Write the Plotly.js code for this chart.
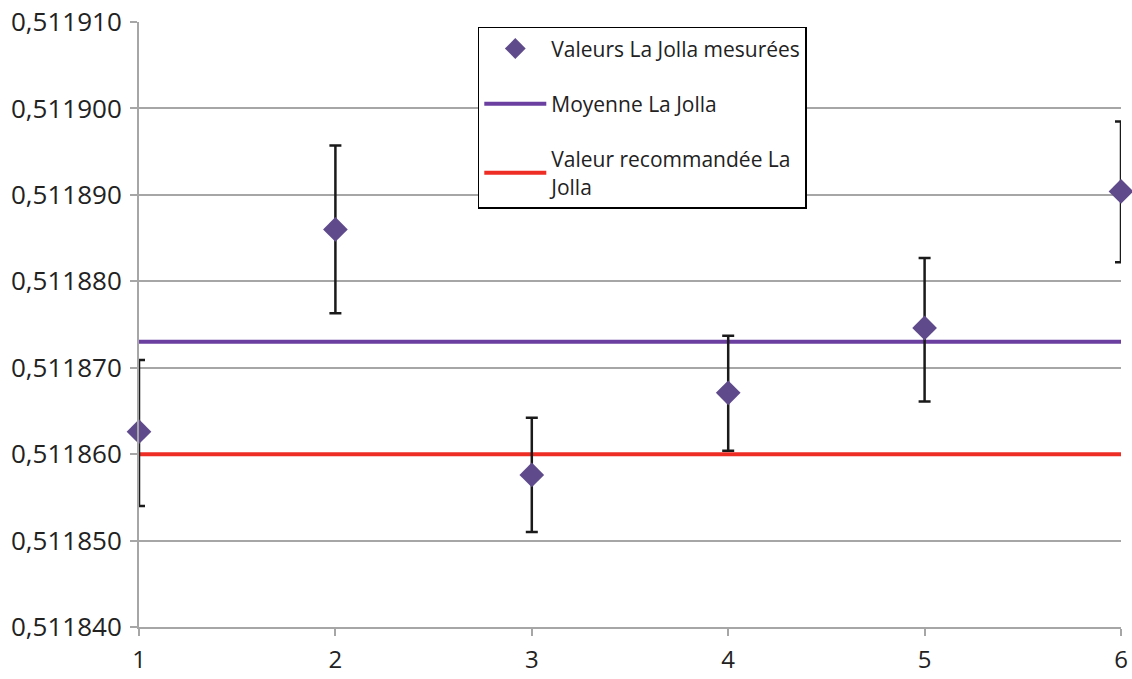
<!DOCTYPE html>
<html>
<head>
<meta charset="utf-8">
<script src="https://cdn.plot.ly/plotly-3.0.1.min.js"></script>
<style>html,body{margin:0;padding:0;background:#fff;}#chart{width:1132px;height:679px;}</style>
</head>
<body>
<div id="chart"></div>
<script>
const runs = [1, 2, 3, 4, 5, 6];
const measured = [0.5118626, 0.5118860, 0.5118576, 0.5118671, 0.5118746, 0.5118904];
const errPlus = [0.0000083, 0.0000097, 0.0000066, 0.0000066, 0.0000081, 0.0000081];
const errMinus = [0.0000086, 0.0000097, 0.0000066, 0.0000067, 0.0000085, 0.0000082];
const meanValue = 0.511873;
const recommendedValue = 0.511860;
const yTicks = [0.51184, 0.51185, 0.51186, 0.51187, 0.51188, 0.51189, 0.5119, 0.51191];
const yTickLabels = ["0,511840", "0,511850", "0,511860", "0,511870", "0,511880", "0,511890", "0,511900", "0,511910"];

const font = "Open Sans";

const mean = {
  x: [runs[0], runs[runs.length - 1]], y: [meanValue, meanValue], type: 'scatter', mode: 'lines',
  name: 'Moyenne La Jolla', legendgroup: 'b', legendrank: 2,
  line: {color: '#6A3FA0', width: 4}
};
const rec = {
  x: [runs[0], runs[runs.length - 1]], y: [recommendedValue, recommendedValue], type: 'scatter', mode: 'lines',
  name: 'Valeur recommandée La<br>Jolla', legendgroup: 'c', legendrank: 3,
  line: {color: '#EE2D24', width: 4}
};
const meas = {
  x: runs, y: measured, type: 'scatter', mode: 'markers',
  name: 'Valeurs La Jolla mesurées', legendgroup: 'a', legendrank: 1,
  marker: {symbol: 'diamond', size: 19, color: '#5F4B8B'},
  error_y: {type: 'data', symmetric: false, array: errPlus, arrayminus: errMinus,
    color: '#1a1a1a', thickness: 2.5, width: 6},
  cliponaxis: false
};

const layout = {
  width: 1132, height: 679,
  margin: {l: 139, r: 11, t: 22, b: 52},
  paper_bgcolor: '#fff', plot_bgcolor: '#fff',
  showlegend: true,
  legend: {
    x: 0.345, y: 0.992, xanchor: 'left', yanchor: 'top',
    bgcolor: '#fff', bordercolor: '#000', borderwidth: 1.5,
    font: {family: font, size: 21, color: '#222'},
    traceorder: 'grouped',
    tracegroupgap: 25,
    itemwidth: 62
  },
  xaxis: {
    range: [1, 6], tickvals: runs, ticktext: runs.map(String),
    showgrid: false, zeroline: false,
    showline: true, linecolor: '#a6a6a6', linewidth: 2,
    ticks: 'outside', ticklen: 7, tickcolor: '#a6a6a6', tickwidth: 2,
    ticklabelstandoff: 3,
    tickfont: {family: font, size: 24, color: '#222'}
  },
  yaxis: {
    range: [0.51184, 0.51191], tickvals: yTicks, ticktext: yTickLabels,
    showgrid: true, gridcolor: '#a6a6a6', gridwidth: 2, zeroline: false,
    showline: true, linecolor: '#a6a6a6', linewidth: 2,
    ticks: 'outside', ticklen: 7, tickcolor: '#a6a6a6', tickwidth: 2,
    ticklabelstandoff: 3,
    tickfont: {family: font, size: 26, color: '#222'}
  },
  hovermode: false
};

Plotly.newPlot('chart', [mean, rec, meas], layout, {displayModeBar: false, staticPlot: true});
</script>
</body>
</html>
